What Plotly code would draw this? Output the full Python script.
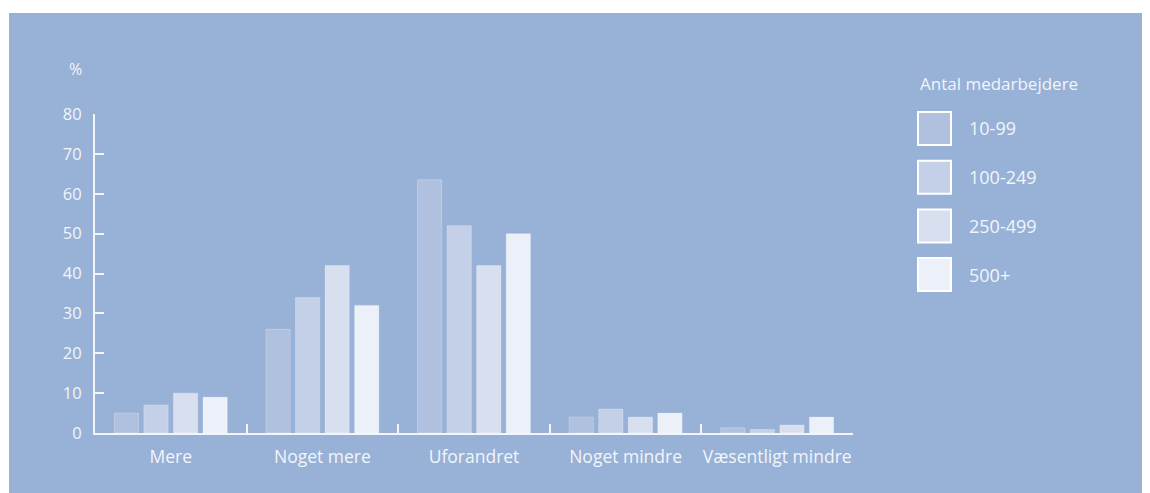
#!/usr/bin/env python3
import plotly.graph_objects as go

CATEGORIES = ['Mere', 'Noget mere', 'Uforandret', 'Noget mindre', 'Væsentligt mindre']
GROUPS = ['10-99', '100-249', '250-499', '500+']
VALUES_10_99 = [5, 26, 63.5, 4, 1.3]
VALUES_100_249 = [7, 34, 52, 6, 0.9]
VALUES_250_499 = [10, 42, 42, 4, 2]
VALUES_500 = [9, 32, 50, 5, 4]
SERIES = [VALUES_10_99, VALUES_100_249, VALUES_250_499, VALUES_500]

BAR_COLORS = ['#afc1df', '#c4d0e7', '#d8dfee', '#ecf0f8']
BG = '#98b1d6'
TXT = '#f2f5fa'
FONT = 'Open Sans'

# page body margin shifts the figure by 8px, so layout positions are screen px minus 8
OFF = 8
W, H = 1150, 493
L, R, T, B = 95 - OFF, 853 - OFF, 114 - OFF, 433 - OFF


def px(x):
    return (x - OFF - L) / (R - L)


def py(y):
    return (B - (y - OFF)) / (B - T)


def txt(size):
    return dict(size=size, color=TXT, family=FONT)


fig = go.Figure()
for name, vals, col in zip(GROUPS, SERIES, BAR_COLORS):
    fig.add_trace(go.Bar(x=CATEGORIES, y=vals, name=name,
                         marker=dict(color=col, line=dict(color='rgba(255,255,255,0.25)', width=1)),
                         showlegend=False))

shapes = [dict(type='rect', xref='paper', yref='paper', x0=px(9), x1=px(1160), y0=py(510), y1=py(13),
               fillcolor=BG, line=dict(width=0), layer='below')]
annotations = [
    dict(text='%', xref='paper', yref='paper', x=px(75), y=py(69), xanchor='center', yanchor='middle',
         showarrow=False, font=txt(16)),
    dict(text='Antal medarbejdere', xref='paper', yref='paper', x=px(918), y=py(83), xanchor='left',
         yanchor='middle', showarrow=False, font=txt(17)),
]
for i, (name, col) in enumerate(zip(GROUPS, BAR_COLORS)):
    top = 112 + i * 48.7
    shapes.append(dict(type='rect', xref='paper', yref='paper', x0=px(918), x1=px(951), y0=py(top + 33), y1=py(top),
                       fillcolor=col, line=dict(color='white', width=2)))
    annotations.append(dict(text=name, xref='paper', yref='paper', x=px(967), y=py(top + 16.5), xanchor='left',
                            yanchor='middle', showarrow=False, font=txt(18)))

fig.update_layout(
    width=W, height=H,
    margin=dict(l=L, r=W - R, t=T, b=H - B, pad=0),
    paper_bgcolor='white',
    plot_bgcolor='rgba(0,0,0,0)',
    barmode='group', bargap=0.22, bargroupgap=0.18,
    font=txt(16),
    shapes=shapes, annotations=annotations,
    xaxis=dict(showline=True, linecolor=TXT, linewidth=2, showgrid=False, zeroline=False,
               tickson='boundaries', ticks='inside', ticklen=9, tickwidth=2, tickcolor=TXT,
               tickangle=0, tickfont=txt(17.5), ticklabelstandoff=7),
    yaxis=dict(range=[0, 80], dtick=10, showline=True, linecolor=TXT, linewidth=2, showgrid=False,
               zeroline=False, ticks='inside', ticklen=9, tickwidth=2, tickcolor=TXT,
               tickfont=txt(16.5), ticklabelstandoff=8),
)

fig.write_html('out.html')
